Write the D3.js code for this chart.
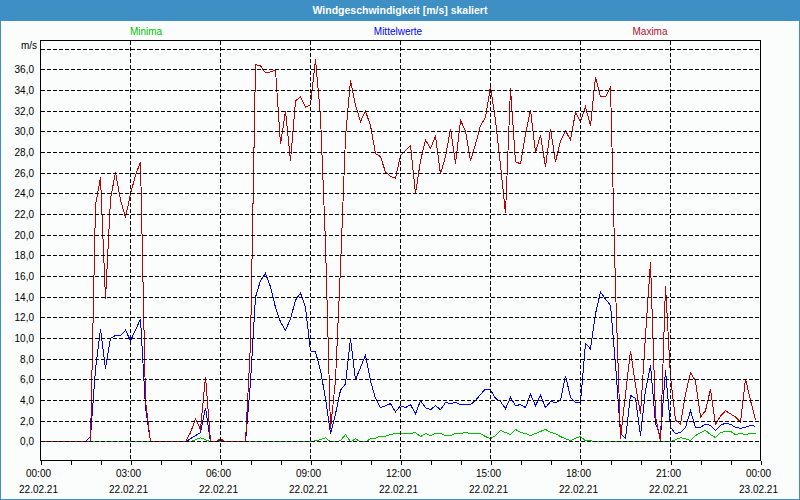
<!DOCTYPE html>
<html>
<head>
<meta charset="utf-8">
<script src="https://cdn.jsdelivr.net/npm/d3@7"></script>
<style>
html,body{margin:0;padding:0;background:#fbfdfc;}
svg{display:block;}
text{font-family:"Liberation Sans",Arial,sans-serif;}
</style>
</head>
<body>
<svg id="chart" width="800" height="500"></svg>
<script>
// ---- data (10-minute samples, 22.02.21 00:00 .. 23:50) ----
const startMinute = 0, stepMinutes = 10;
const maxima = [
0,0,0,0,0,0,0,0,0,0,
0,22.9,25.6,13.8,23.5,26.1,23.4,21.7,24.0,25.8,
27.1,4.0,0,0,0,0,0,0,0,0,
0.9,2.2,1.2,6.3,0,0,0.3,0,0,0,
0,0,9.5,36.5,36.4,35.7,35.8,36.0,28.8,32.0,
27.2,33.0,33.4,32.4,32.6,37.0,31.5,19.2,1.2,6.0,
16.9,29.5,35.0,32.6,31.0,32.0,30.6,27.9,27.6,26.1,
25.7,25.5,27.7,28.2,28.7,24.0,27.2,29.2,28.4,29.6,
25.9,27.6,30.3,26.9,31.1,30.1,27.2,28.8,30.6,31.4,
34.4,31.1,26.8,22.1,34.2,27.1,26.9,29.8,32.1,28.0,
29.7,26.6,30.3,27.1,29.1,30.1,29.2,31.9,31.0,32.4,
30.6,35.3,33.4,33.4,34.3,15.0,0.3,4.6,8.8,5.5,
2.7,10.3,17.4,2.5,0,15.1,6.3,2.1,1.7,4.6,
6.7,5.9,2.4,3.0,5.1,1.7,2.5,3.0,2.7,2.4,
1.9,6.1,4.0,2.1
];
const mittelwerte = [
0,0,0,0,0,0,0,0,0,0,
0.5,7.0,10.9,7.1,10.0,10.3,10.3,10.8,9.8,10.8,
11.9,3.3,0,0,0,0,0,0,0,0,
0.3,0.6,0.9,3.3,0,0,0.2,0,0,0,
0,0,5.8,14.0,15.6,16.3,15.0,13.0,11.6,10.8,
11.9,13.7,14.4,13.0,8.8,8.7,6.9,4.2,0.8,2.7,
5.0,5.6,10.0,6.0,7.2,8.4,5.9,4.2,3.3,3.5,
3.7,2.9,3.5,3.3,3.6,2.7,4.0,3.3,3.1,3.5,
3.1,3.8,3.7,3.8,3.6,3.6,3.6,4.0,4.6,5.1,
5.0,4.2,3.9,3.2,4.3,3.5,3.6,3.3,4.6,3.5,
4.5,3.3,3.9,3.8,4.0,6.4,4.3,3.8,3.8,9.5,
9.0,12.4,14.5,13.8,13.2,7.5,0.8,0.3,4.5,4.2,
0.6,5.0,7.4,1.8,0.5,6.9,1.4,0.8,0.9,1.4,
3.0,1.4,1.4,1.7,1.6,1.1,1.6,1.8,1.7,1.4,
1.3,1.4,1.6,1.5
];
const minima = [
0,0,0,0,0,0,0,0,0,0,
0,0,0,0,0,0,0,0,0,0,
0,0,0,0,0,0,0,0,0,0,
0,0.2,0.4,0.2,0,0,0,0,0,0,
0,0,0,0,0,0,0,0,0,0,
0,0,0,0,0,0.1,0.2,0.4,0,0,
0.1,0.7,0,0.3,0,0,0.3,0.35,0.55,0.55,
0.7,0.8,0.85,0.8,0.8,0.9,0.5,0.8,0.6,0.8,
0.8,0.6,0.6,0.8,0.8,0.9,0.8,0.8,0.8,0.5,
0.3,0.6,1.1,0.9,0.7,1.2,0.9,0.8,0.6,0.8,
1.0,1.2,0.9,0.8,0.5,0.3,0.1,0.35,0.5,0.1,
0.1,0,0,0,0,0,0,0,0,0,
0,0,0,0,0,0,0,0.2,0.4,0.3,
0.1,0.6,0.9,1.1,0.7,0.4,0.9,1.0,1.0,0.7,
0.8,0.7,0.8,0.8
];
const timeLabels = ["00:00","03:00","06:00","09:00","12:00","15:00","18:00","21:00","00:00"];
const dateLabels = ["22.02.21","22.02.21","22.02.21","22.02.21","22.02.21","22.02.21","22.02.21","22.02.21","23.02.21"];
const yTickValues = [0,2,4,6,8,10,12,14,16,18,20,22,24,26,28,30,32,34,36];
const yGridValues = [0,2,4,6,8,10,12,14,16,18,20,22,24,26,28,30,32,34,36,38];
const seriesNames = ["Minima","Mittelwerte","Maxima"];
const titleText = "Windgeschwindigkeit [m/s] skaliert";
const unitText = "m/s";

// ---- layout ----
const svg = d3.select("#chart");
const L = 40, R = 760, T = 40, B = 460;
const x = d3.scaleLinear().domain([0, 1440]).range([L, R]);
const y = d3.scaleLinear().domain([-1.81, 38.84]).range([B, T]);
const lineColors = {Minima:"#00c000", Mittelwerte:"#0000ff", Maxima:"#c00000"};
const legendColors = {Minima:"#00c000", Mittelwerte:"#0000ff", Maxima:"#b01030"};

// window frame + title bar
svg.append("rect").attr("x",0).attr("y",0).attr("width",800).attr("height",500).attr("fill","#fbfdfc");
svg.append("rect").attr("x",0.5).attr("y",0.5).attr("width",799).attr("height",499)
  .attr("fill","none").attr("stroke","#3d8fc4").attr("stroke-width",1);
svg.append("rect").attr("x",0).attr("y",0).attr("width",800).attr("height",21).attr("fill","#3d8fc4");
svg.append("text").attr("x",400).attr("y",14).attr("text-anchor","middle")
  .attr("fill","#ffffff").attr("font-size","10.5px").attr("font-weight","bold").text(titleText);

// legend
const legendX = {Minima:146, Mittelwerte:398, Maxima:650};
seriesNames.forEach(n => {
  svg.append("text").attr("x",legendX[n]).attr("y",34.5).attr("text-anchor","middle")
    .attr("fill",legendColors[n]).attr("font-size","10px").text(n);
});

// data lines
const times = d3.range(maxima.length).map(i => startMinute + i*stepMinutes);
const lineGen = vals => d3.line().x((d,i)=>x(times[i])).y(d=>y(d))(vals);
const gLines = svg.append("g").attr("transform","translate(0.5,0.5)");
[["Minima",minima],["Mittelwerte",mittelwerte],["Maxima",maxima]].forEach(([n,vals])=>{
  gLines.append("path").attr("d",lineGen(vals)).attr("fill","none")
    .attr("stroke",lineColors[n]).attr("stroke-width",1).attr("shape-rendering","crispEdges");
});

// grid (drawn over the lines)
const gGrid = svg.append("g").attr("transform","translate(0.5,0.5)");
yGridValues.forEach(v=>{
  const yy = Math.round(y(v));
  gGrid.append("line").attr("x1",L).attr("x2",R).attr("y1",yy).attr("y2",yy)
    .attr("stroke","#000").attr("stroke-dasharray","4,2").attr("shape-rendering","crispEdges");
});
const vGrid = d3.range(180, 1440, 180);
vGrid.forEach(m=>{
  const xx = Math.round(x(m));
  gGrid.append("line").attr("x1",xx).attr("x2",xx).attr("y1",T).attr("y2",B)
    .attr("stroke","#000").attr("stroke-dasharray","4,2").attr("shape-rendering","crispEdges");
});
// frame
gGrid.append("rect").attr("x",L).attr("y",T).attr("width",R-L).attr("height",B-T)
  .attr("fill","none").attr("stroke","#000").attr("shape-rendering","crispEdges");

// x axis
const xAxis = d3.axisBottom(x).tickValues(d3.range(0,1441,60)).tickSize(4).tickFormat("");
const gx = svg.append("g").attr("transform",`translate(0.5,${B+0.5})`).call(xAxis);
gx.select(".domain").remove();
gx.selectAll("line").attr("stroke","#000").attr("shape-rendering","crispEdges");
timeLabels.forEach((t,i)=>{
  const xx = x(i*180) - 1.5;
  svg.append("text").attr("x",xx).attr("y",477).attr("text-anchor","middle")
    .attr("font-size","10px").attr("fill","#000").text(t);
  svg.append("text").attr("x",xx).attr("y",493).attr("text-anchor","middle")
    .attr("font-size","10px").attr("fill","#000").text(dateLabels[i]);
});

// y labels
const yAxis = d3.axisLeft(y).tickValues(yTickValues).tickSize(0)
  .tickFormat(v => d3.format(".1f")(v).replace(".", ","));
const gy = svg.append("g").attr("transform",`translate(${L-3},0)`).call(yAxis);
gy.select(".domain").remove();
gy.selectAll("text").attr("font-size","10px").attr("fill","#000")
  .attr("font-family","Liberation Sans, Arial, sans-serif").attr("dy","0.35em");
svg.append("text").attr("x",L-3).attr("y",y(38)+0.5).attr("text-anchor","end")
  .attr("font-size","10px").attr("fill","#000").text(unitText);
</script>
</body>
</html>
